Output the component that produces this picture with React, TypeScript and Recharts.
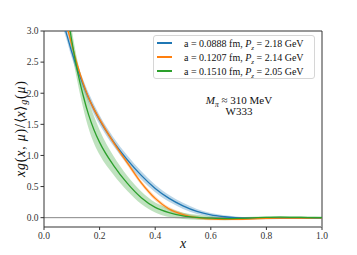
import React from "react";
import {
  ComposedChart,
  Line,
  Area,
  XAxis,
  YAxis,
  ReferenceLine,
} from "recharts";

// momentum fraction grid
const xs = [
  0.06, 0.08, 0.1, 0.12, 0.14, 0.16, 0.18, 0.2, 0.25, 0.3, 0.35, 0.4, 0.45,
  0.5, 0.55, 0.6, 0.65, 0.7, 0.75, 0.8, 0.85, 0.9, 0.95, 1.0,
];

const blueMean = [
  3.25, 2.97, 2.66, 2.39, 2.15, 1.93, 1.74, 1.57, 1.22, 0.93, 0.68, 0.47,
  0.31, 0.19, 0.1, 0.045, 0.015, -0.005, -0.012, -0.01, -0.005, -0.005,
  -0.008, -0.005,
];
const blueErr = [
  0.1, 0.09, 0.09, 0.08, 0.08, 0.08, 0.08, 0.075, 0.07, 0.07, 0.065, 0.06,
  0.055, 0.05, 0.04, 0.03, 0.025, 0.02, 0.015, 0.015, 0.015, 0.015, 0.015,
  0.015,
];

const orangeMean = [
  3.5, 3.12, 2.78, 2.45, 2.17, 1.93, 1.74, 1.58, 1.21, 0.88, 0.56, 0.31,
  0.14, 0.05, 0.0, -0.02, -0.028, -0.028, -0.02, -0.012, -0.008, -0.006,
  -0.005, -0.003,
];
const orangeErr = [
  0.06, 0.05, 0.05, 0.05, 0.045, 0.045, 0.045, 0.045, 0.04, 0.04, 0.035,
  0.035, 0.03, 0.03, 0.025, 0.02, 0.015, 0.012, 0.012, 0.012, 0.012, 0.012,
  0.012, 0.012,
];

const greenMean = [
  4.2, 3.42, 2.84, 2.36, 1.98, 1.66, 1.41, 1.21, 0.84, 0.55, 0.32, 0.165,
  0.08, 0.03, 0.005, -0.008, -0.015, -0.012, -0.004, 0.004, 0.008, 0.005,
  0.002, 0.0,
];
const greenErr = [
  0.3, 0.22, 0.18, 0.17, 0.2, 0.22, 0.22, 0.2, 0.15, 0.12, 0.1, 0.08, 0.07,
  0.05, 0.04, 0.03, 0.025, 0.02, 0.02, 0.02, 0.02, 0.02, 0.02, 0.02,
];

const spacings = ["0.0888", "0.1207", "0.1510"];
const momenta = ["2.18", "2.14", "2.05"];
const colors = ["#1f77b4", "#ff7f0e", "#2ca02c"];

const xTicks = [0, 0.2, 0.4, 0.6, 0.8, 1.0];
const yTicks = [0, 0.5, 1.0, 1.5, 2.0, 2.5, 3.0];

const means = [blueMean, orangeMean, greenMean];
const errs = [blueErr, orangeErr, greenErr];
const keys = ["s0", "s1", "s2"];

const rows = xs.map((x, i) => {
  const row: Record<string, any> = { x };
  keys.forEach((k, j) => {
    row[k] = means[j][i];
    row[k + "band"] = [means[j][i] - errs[j][i], means[j][i] + errs[j][i]];
  });
  return row;
});

const serif = "'Liberation Serif', 'Times New Roman', serif";
const dark = "#333";

function YLabel(props: any) {
  const vb = props.viewBox || {};
  const cx = (vb.x ?? 10) + 10;
  const cy = (vb.y ?? 31) + (vb.height ?? 196) / 2;
  return (
    <text
      x={cx}
      y={cy}
      transform={`rotate(-90, ${cx}, ${cy})`}
      textAnchor="middle"
      dominantBaseline="central"
      fontFamily={serif}
      fontSize={14}
      fill="#111"
      textLength={96}
      lengthAdjust="spacing"
    >
      <tspan fontStyle="italic">xg</tspan>
      <tspan>(</tspan>
      <tspan fontStyle="italic">x</tspan>
      <tspan>, </tspan>
      <tspan fontStyle="italic">μ</tspan>
      <tspan>)/⟨</tspan>
      <tspan fontStyle="italic">x</tspan>
      <tspan>⟩</tspan>
      <tspan fontStyle="italic" fontSize={10} dy={3}>
        g
      </tspan>
      <tspan dy={-3}>(</tspan>
      <tspan fontStyle="italic">μ</tspan>
      <tspan>)</tspan>
    </text>
  );
}

function XLabel(props: any) {
  const vb = props.viewBox || {};
  const cx = (vb.x ?? 44) + (vb.width ?? 278) / 2;
  const cy = (vb.y ?? 227) + 21;
  return (
    <text
      x={cx}
      y={cy}
      textAnchor="middle"
      fontFamily={serif}
      fontStyle="italic"
      fontSize={14}
      fill="#111"
    >
      x
    </text>
  );
}

export default function App() {
  return (
    <div
      style={{
        position: "fixed",
        left: 0,
        top: 0,
        width: 357,
        height: 255,
        background: "#fff",
      }}
    >
      <ComposedChart
        width={357}
        height={255}
        data={rows}
        margin={{ top: 31, right: 35, bottom: 8, left: 10 }}
      >
        <XAxis
          dataKey="x"
          type="number"
          domain={[0, 1]}
          ticks={xTicks}
          tickFormatter={(v: number) => v.toFixed(1)}
          height={20}
          tickSize={3}
          tickMargin={2}
          axisLine={{ stroke: "#999", strokeWidth: 2 }}
          tickLine={{ stroke: dark }}
          tick={{ fill: dark, fontFamily: serif, fontSize: 9.5 }}
          label={<XLabel />}
        />
        <YAxis
          type="number"
          domain={[-0.15, 3]}
          ticks={yTicks}
          allowDataOverflow
          tickFormatter={(v: number) => v.toFixed(1)}
          width={34}
          tickSize={3.5}
          tickMargin={2}
          axisLine={{ stroke: dark }}
          tickLine={{ stroke: dark }}
          tick={{ fill: dark, fontFamily: serif, fontSize: 9.5 }}
          label={<YLabel />}
        />

        <ReferenceLine y={0} stroke="#888" strokeWidth={1} />
        <ReferenceLine y={3} stroke={dark} strokeWidth={1} />
        <ReferenceLine x={1} stroke={dark} strokeWidth={1} />

        {keys.map((k, j) => [
          <Area
            key={k + "band"}
            dataKey={k + "band"}
            type="monotone"
            stroke="none"
            fill={colors[j]}
            fillOpacity={0.3}
            legendType="none"
            activeDot={false}
            isAnimationActive={false}
          />,
          <Line
            key={k}
            dataKey={k}
            type="monotone"
            stroke={colors[j]}
            strokeWidth={1.3}
            dot={false}
            activeDot={false}
            isAnimationActive={false}
          />,
        ])}
      </ComposedChart>

      {/* legend box */}
      <div
        style={{
          position: "absolute",
          left: 153,
          top: 35,
          width: 162,
          boxSizing: "border-box",
          border: "1px solid #d6d6d6",
          borderRadius: 3,
          background: "rgba(255,255,255,0.85)",
          fontFamily: serif,
          fontSize: 10,
          color: "#111",
        }}
      >
        {spacings.map((a, j) => (
          <div
            key={a}
            style={{
              display: "flex",
              alignItems: "center",
              height: 14,
              whiteSpace: "nowrap",
            }}
          >
            <div
              style={{
                width: 15,
                height: 1.5,
                background: colors[j],
                marginLeft: 3,
                marginRight: 12,
                flex: "none",
              }}
            />
            <span>
              a = {a} fm, <i>P</i>
              <sub style={{ fontSize: 7, fontStyle: "italic", lineHeight: 0 }}>
                z
              </sub>{" "}
              = {momenta[j]} GeV
            </span>
          </div>
        ))}
      </div>

      {/* annotation */}
      <div
        style={{
          position: "absolute",
          left: 196,
          top: 95,
          width: 86,
          textAlign: "center",
          fontFamily: serif,
          fontSize: 11,
          lineHeight: "11px",
          color: "#111",
        }}
      >
        <div>
          <i>M</i>
          <sub style={{ fontSize: 7.5, fontStyle: "italic", lineHeight: 0 }}>
            π
          </sub>{" "}
          ≈ 310 MeV
        </div>
        <div>W333</div>
      </div>
    </div>
  );
}
